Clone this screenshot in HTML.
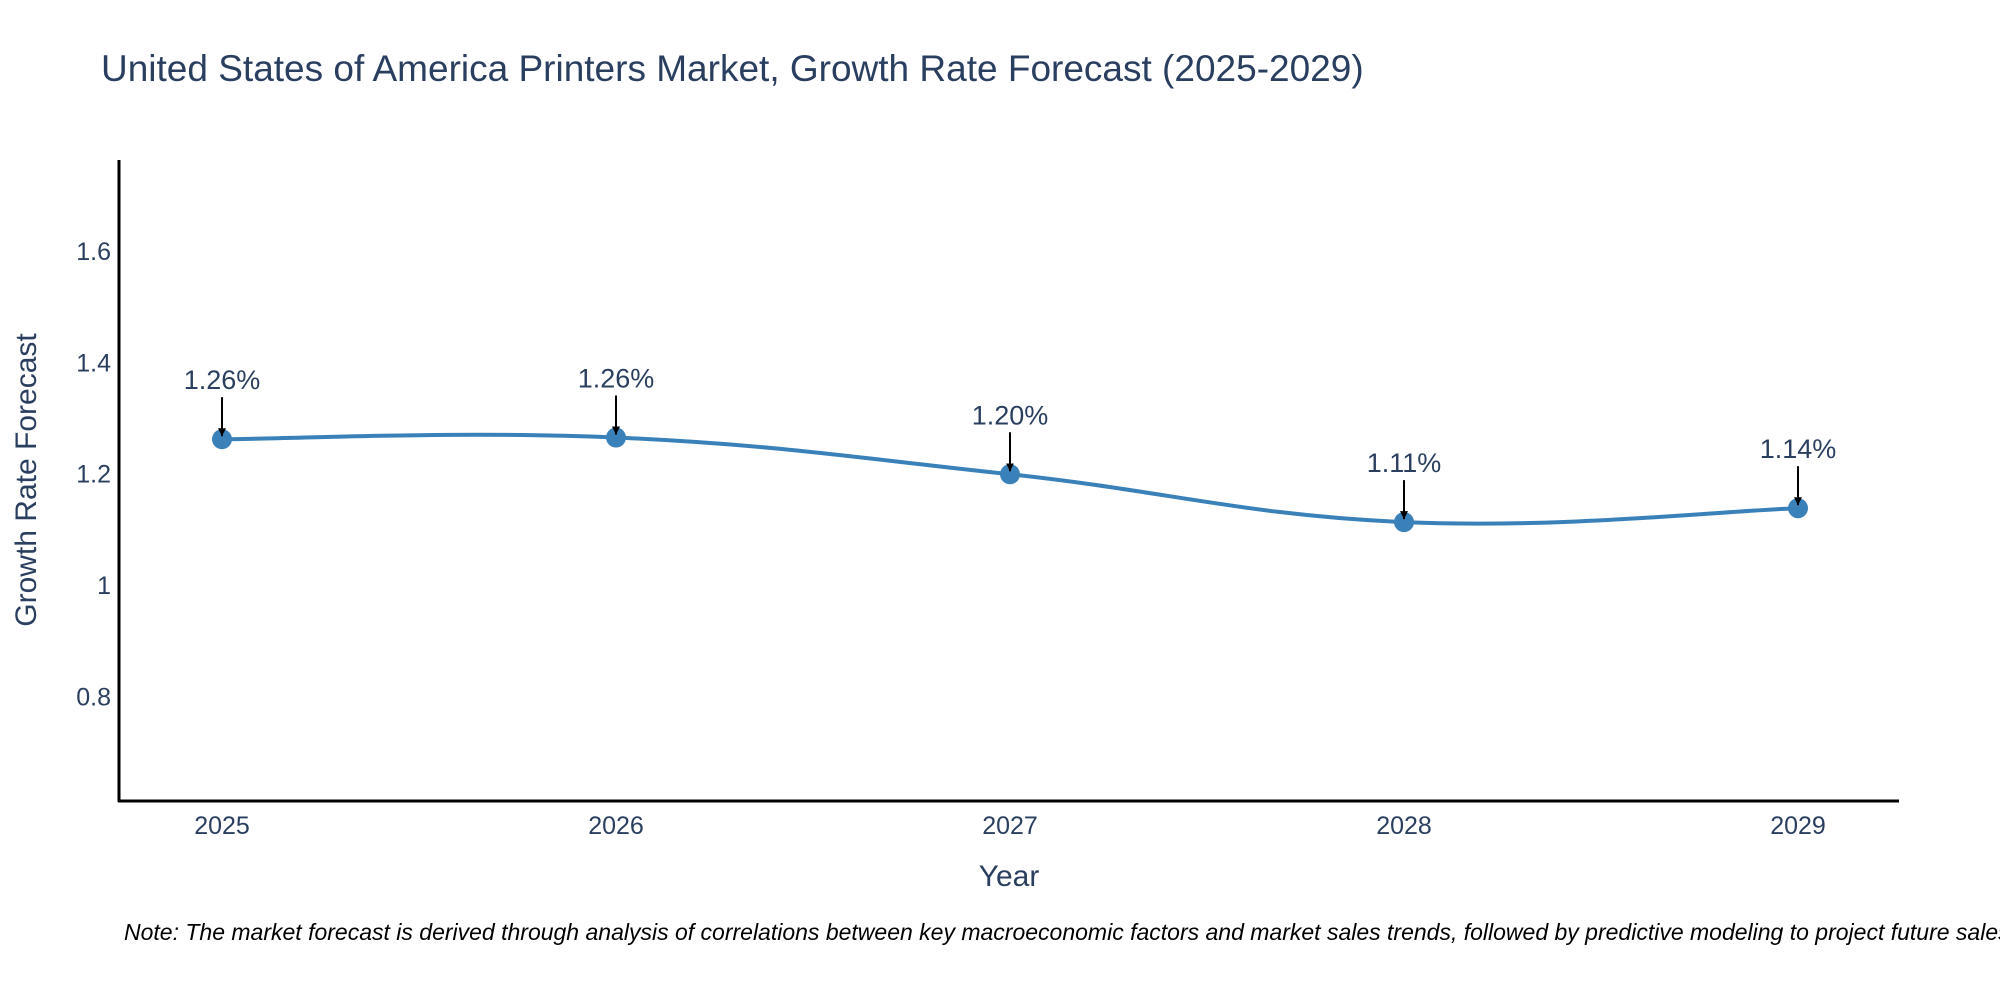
<!DOCTYPE html>
<html><head><meta charset="utf-8"><style>
body{margin:0;background:#fff;}
svg{display:block;font-family:"Liberation Sans","DejaVu Sans",sans-serif;}
</style></head><body>
<svg id="chart" width="2000" height="1000" viewBox="0 0 2000 1000">
<defs><marker id="ah" viewBox="0 0 10 10" refX="10" refY="5" markerWidth="4" markerHeight="4.5" orient="auto"><path d="M0,0L10,5L0,10z" fill="#000"/></marker></defs>
<text x="101" y="81" font-size="37" fill="#2a3f5f">United States of America Printers Market, Growth Rate Forecast (2025-2029)</text>
<g id="yticks"></g>
<g id="xticks"></g>
<line x1="119" y1="160" x2="119" y2="802" stroke="#000" stroke-width="3"/>
<line x1="118" y1="801" x2="1899" y2="801" stroke="#000" stroke-width="3"/>
<path id="line" fill="none" stroke="#3a80b9" stroke-width="4"/>
<g id="points"></g>
<g id="annots"></g>
<text transform="translate(36,480) rotate(-90)" text-anchor="middle" font-size="30" fill="#2a3f5f">Growth Rate Forecast</text>
<text x="1009" y="886" text-anchor="middle" font-size="30" fill="#2a3f5f">Year</text>
<text x="124" y="940" font-size="23" font-style="italic" fill="#000">Note: The market forecast is derived through analysis of correlations between key macroeconomic factors and market sales trends, followed by predictive modeling to project future sales.</text>
</svg>
<script>
const years = [2025, 2026, 2027, 2028, 2029];
const values = [1.262, 1.265, 1.199, 1.113, 1.138];
const labels = ["1.26%", "1.26%", "1.20%", "1.11%", "1.14%"];
const yTicks = [0.8, 1, 1.2, 1.4, 1.6];
const NS = "http://www.w3.org/2000/svg";
const X = i => 222 + i * 394;
const Y = v => 585 - (v - 1) * 556.5;
function mk(tag, attrs, parent) { const e = document.createElementNS(NS, tag); for (const k in attrs) e.setAttribute(k, attrs[k]); parent.appendChild(e); return e; }
const yt = document.getElementById('yticks');
yTicks.forEach(t => {
  const e = mk('text', {x: 111, y: Y(t) + 9, 'text-anchor': 'end', 'font-size': 25, fill: '#2a3f5f'}, yt);
  
  
  e.textContent = t;
});
const xt = document.getElementById('xticks');
years.forEach((y, i) => {
  const e = mk('text', {x: X(i), y: 834, 'text-anchor': 'middle', 'font-size': 25, fill: '#2a3f5f'}, xt);
  
  
  e.textContent = y;
});
const pts = values.map((v, i) => [X(i), Y(v)]);
let d = `M${pts[0][0]},${pts[0][1]}`;
const s = 0.2;
for (let i = 0; i < pts.length - 1; i++) {
  const p0 = pts[Math.max(0, i - 1)], p1 = pts[i], p2 = pts[i + 1], p3 = pts[Math.min(pts.length - 1, i + 2)];
  const c1 = [p1[0] + (p2[0] - p0[0]) * s, p1[1] + (p2[1] - p0[1]) * s];
  const c2 = [p2[0] - (p3[0] - p1[0]) * s, p2[1] - (p3[1] - p1[1]) * s];
  d += ` C${c1[0]},${c1[1]} ${c2[0]},${c2[1]} ${p2[0]},${p2[1]}`;
}
document.getElementById('line').setAttribute('d', d);
const pg = document.getElementById('points'), ag = document.getElementById('annots');
pts.forEach((p, i) => {
  const c = mk('circle', {cx: p[0], cy: p[1], r: 10, fill: '#3a80b9'}, pg);
  
  
  const a = mk('line', {x1: p[0], y1: p[1] - 42, x2: p[0], y2: p[1] - 3, stroke: '#000', 'stroke-width': 2, 'marker-end': 'url(#ah)'}, ag);
  
  
  const t = mk('text', {x: p[0], y: p[1] - 50, 'text-anchor': 'middle', 'font-size': 27, fill: '#2a3f5f'}, ag);
  
  
  t.textContent = labels[i];
});
</script>
</body></html>
